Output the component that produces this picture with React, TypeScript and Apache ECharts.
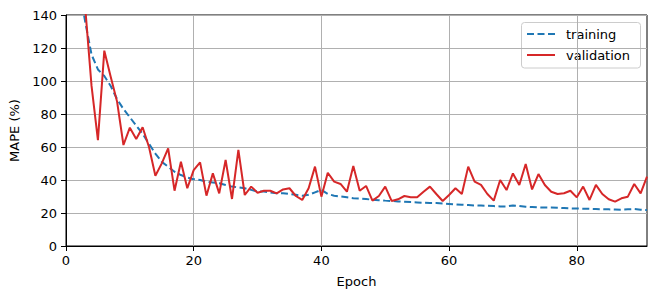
import React, { useEffect, useRef } from "react";
import * as echarts from "echarts";

const training: number[] = [
  190, 158, 136, 116, 107, 103, 97, 89, 83, 78,
  73, 68, 62, 56, 51, 48, 45, 43, 41.5, 40.5,
  40, 39, 38.5, 38, 37, 36, 35.5, 35, 34, 33,
  33, 32.5, 32, 32, 31.5, 31, 30.5, 31, 32.5, 34,
  31.5, 30.5, 30, 29.5, 29, 28.8, 28.5, 28, 27.8, 27.5,
  27.3, 27, 26.8, 26.6, 26.4, 26.2, 26, 26, 25.8, 25.5,
  25.2, 25, 24.8, 24.6, 24.5, 24.4, 24.2, 24, 24, 24.6,
  24.3, 23.8, 23.6, 23.4, 23.3, 23.3, 23.2, 23, 22.8, 22.7,
  22.6, 22.5, 22.4, 22.3, 22.2, 22.1, 22, 22.2, 22.4, 22, 21.8,
];

const validation: number[] = [
  300, 220, 145, 97, 64.2, 118.4, 102.6, 87.5, 61.2, 71.7,
  64.8, 72, 60, 42.6, 50.1, 59.2, 33.5, 51.1, 35, 46,
  50.7, 30.5, 44, 31.9, 52.1, 28.5, 58.2, 30.9, 36, 32.3,
  33.5, 33.5, 31.9, 34.3, 35, 30.3, 27.9, 35, 48.1, 29.9,
  44.4, 39, 37.6, 32.9, 48.5, 33.5, 36.4, 27.5, 30.3, 36,
  27.3, 28.3, 30.3, 29.5, 29.5, 32.9, 36, 31.5, 27.3, 30.9,
  35, 31.5, 48.1, 39, 37, 31.5, 27.5, 40, 33.9, 44,
  37, 49.7, 34.3, 43.6, 37, 32.9, 31.5, 32, 33.5, 29.5,
  36, 27.9, 37, 31.5, 28.3, 26.9, 28.9, 29.9, 37.6, 31.9, 42,
];

const xTicks = [0, 20, 40, 60, 80];
const seriesNames = ["training", "validation"];

const FONT = "DejaVu Sans";
const TRAIN_COLOR = "#1f77b4";
const VAL_COLOR = "#d62728";
const DASH = [7, 3.5];

export default function App() {
  const ref = useRef<HTMLDivElement>(null);
  useEffect(() => {
    if (!ref.current) return;
    const chart = echarts.init(ref.current, null, { renderer: "svg" });
    const trainData = training.map((v, i) => [i + 1, v]);
    const valData = validation.map((v, i) => [i + 1, v]);
    chart.setOption({
      animation: false,
      textStyle: { fontFamily: FONT },
      grid: {
        left: 66,
        top: 15,
        right: 9,
        bottom: 53,
        show: true,
        borderColor: "#000",
        borderWidth: 1,
        backgroundColor: "transparent",
      },
      graphic: [
        {
          type: "group",
          z: 100,
          children: [
            {
              type: "rect",
              shape: { x: 521.5, y: 22.5, width: 119, height: 45.5, r: 3 },
              style: { fill: "rgba(255,255,255,0.85)", stroke: "#cccccc", lineWidth: 1 },
            },
            {
              type: "line",
              shape: { x1: 527, y1: 34, x2: 555, y2: 34 },
              style: { stroke: TRAIN_COLOR, lineWidth: 2, lineDash: DASH },
            },
            {
              type: "text",
              x: 566,
              y: 34,
              style: {
                text: seriesNames[0],
                fontFamily: FONT,
                fontSize: 13,
                fill: "#000",
                verticalAlign: "middle",
                align: "left",
              },
            },
            {
              type: "line",
              shape: { x1: 527, y1: 55, x2: 555, y2: 55 },
              style: { stroke: VAL_COLOR, lineWidth: 2 },
            },
            {
              type: "text",
              x: 566,
              y: 55,
              style: {
                text: seriesNames[1],
                fontFamily: FONT,
                fontSize: 13,
                fill: "#000",
                verticalAlign: "middle",
                align: "left",
              },
            },
          ],
        },
      ],
      xAxis: {
        type: "value",
        min: 0,
        max: 91,
        interval: 20,
        name: "Epoch",
        nameLocation: "middle",
        nameGap: 29,
        nameTextStyle: { fontFamily: FONT, fontSize: 13, color: "#000" },
        axisLine: { show: true, onZero: false, lineStyle: { color: "#000", width: 1 } },
        axisTick: { show: true, length: 5, lineStyle: { color: "#000" }, customValues: xTicks },
        axisLabel: {
          fontFamily: FONT,
          fontSize: 13,
          color: "#000",
          margin: 8,
          customValues: xTicks,
        },
        splitLine: { show: true, lineStyle: { color: "#b0b0b0", width: 1 } },
      },
      yAxis: {
        type: "value",
        min: 0,
        max: 140,
        interval: 20,
        name: "MAPE (%)",
        nameLocation: "middle",
        nameGap: 43,
        nameTextStyle: { fontFamily: FONT, fontSize: 13, color: "#000" },
        axisLine: { show: true, lineStyle: { color: "#000", width: 1 } },
        axisTick: { show: true, length: 5, lineStyle: { color: "#000" } },
        axisLabel: { fontFamily: FONT, fontSize: 13, color: "#000", margin: 9 },
        splitLine: { show: true, lineStyle: { color: "#b0b0b0", width: 1 } },
      },
      series: [
        {
          name: seriesNames[0],
          type: "line",
          data: trainData,
          symbol: "none",
          clip: true,
          lineStyle: { color: TRAIN_COLOR, width: 2, type: DASH },
          itemStyle: { color: TRAIN_COLOR },
          z: 3,
        },
        {
          name: seriesNames[1],
          type: "line",
          data: valData,
          symbol: "none",
          clip: true,
          lineStyle: { color: VAL_COLOR, width: 2 },
          itemStyle: { color: VAL_COLOR },
          z: 4,
        },
      ],
    });
    return () => chart.dispose();
  }, []);
  return <div ref={ref} style={{ width: 656, height: 299, margin: -8 }} />;
}
